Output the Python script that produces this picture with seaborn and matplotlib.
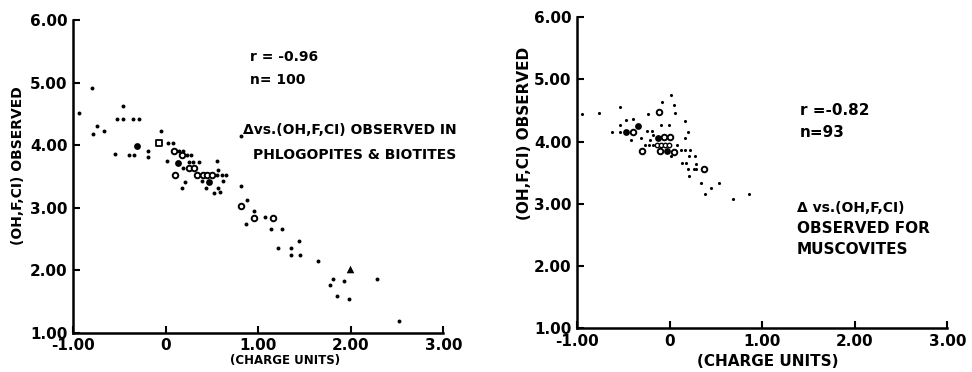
import numpy as np
import pandas as pd
import matplotlib
matplotlib.use('Agg')
import matplotlib.pyplot as plt
import seaborn as sns

# Phlogopites & biotites (left panel)
phl_x = [-0.94, -0.79, -0.78, -0.74, -0.66, -0.55, -0.46, -0.53, -0.46, -0.35,
         -0.29, -0.39, -0.34, -0.19, -0.19, -0.05, 0.03, 0.08, 0.01, 0.15,
         0.19, 0.23, 0.27, 0.25, 0.30, 0.36, 0.19, 0.55, 0.55, 0.61,
         0.65, 0.57, 0.21, 0.39, 0.62, 0.18, 0.44, 0.57, 0.52, 0.59,
         0.81, 0.81, 0.88, 0.87, 0.96, 1.07, 1.14, 1.26, 1.21, 1.36,
         1.36, 1.45, 1.44, 1.65, 1.81, 1.78, 1.93, 1.85, 1.98, 2.28,
         2.52,
         0.09, 0.18, 0.25, 0.31, 0.10, 0.34, 0.40, 0.45, 0.50, 0.82,
         0.96, 1.16,
         -0.31, 0.13, 0.47,
         -0.07,
         1.99]
phl_y = [4.51, 4.91, 4.18, 4.31, 4.23, 3.86, 4.62, 4.42, 4.42, 4.42,
         4.42, 3.84, 3.84, 3.91, 3.81, 4.22, 4.03, 4.03, 3.74, 3.91,
         3.91, 3.84, 3.84, 3.73, 3.73, 3.73, 3.64, 3.74, 3.53, 3.53,
         3.53, 3.61, 3.42, 3.43, 3.43, 3.31, 3.31, 3.31, 3.23, 3.25,
         4.15, 3.35, 3.13, 2.74, 2.95, 2.86, 2.66, 2.66, 2.35, 2.35,
         2.25, 2.25, 2.47, 2.15, 1.86, 1.76, 1.83, 1.59, 1.55, 1.86,
         1.19,
         3.91, 3.84, 3.64, 3.64, 3.53, 3.53, 3.53, 3.53, 3.53, 3.03,
         2.84, 2.84,
         3.98, 3.72, 3.42,
         4.03,
         2.02]
phl_kind = (['dot'] * 61 + ['open'] * 12 + ['big'] * 3 + ['square'] + ['tri'])

# Muscovites (right panel)
mus_x = [-0.95, -0.76, -0.54, -0.23, -0.08, 0.02, 0.05, 0.06, -0.47, -0.40,
         -0.54, -0.09, -0.01, -0.62, -0.54, -0.42, -0.31, -0.24, -0.19, -0.18,
         -0.21, -0.26, -0.22, -0.18, 0.17, 0.20, 0.17, 0.08, 0.02, 0.12,
         0.17, 0.22, 0.21, 0.27, 0.13, 0.18, 0.29, 0.20, 0.26, 0.29,
         0.21, 0.34, 0.53, 0.45, 0.38, 0.68, 0.86,
         -0.14, -0.09, -0.05, -0.01,
         -0.11, -0.39, -0.06, 0.01, -0.30, -0.10, 0.05, 0.37,
         -0.34, -0.47, -0.13, -0.03]
mus_y = [4.44, 4.46, 4.56, 4.44, 4.64, 4.74, 4.59, 4.46, 4.34, 4.36,
         4.26, 4.26, 4.27, 4.15, 4.15, 4.03, 4.06, 4.17, 4.17, 4.10,
         4.03, 3.95, 3.95, 3.95, 4.33, 4.15, 4.05, 3.95, 3.76, 3.87,
         3.87, 3.87, 3.77, 3.77, 3.66, 3.66, 3.64, 3.55, 3.55, 3.55,
         3.45, 3.34, 3.34, 3.25, 3.16, 3.07, 3.15,
         3.95, 3.95, 3.95, 3.95,
         4.47, 4.15, 4.08, 4.08, 3.84, 3.84, 3.83, 3.55,
         4.25, 4.15, 4.06, 3.84]
mus_kind = (['dot'] * 47 + ['small_open'] * 4 + ['open'] * 8 + ['big'] * 4)

x_ticks = [-1, 0, 1, 2, 3]
x_ticklabels = ['-1.00', '0', '1.00', '2.00', '3.00']
y_ticks = [1, 2, 3, 4, 5, 6]
y_ticklabels = ['1.00', '2.00', '3.00', '4.00', '5.00', '6.00']

# marker look for each symbol kind
STYLES = {
    'dot':        dict(marker='o', s=7, color='black', linewidth=0),
    'small_open': dict(marker='o', s=10, facecolor='white', edgecolor='black', linewidth=1.0),
    'open':       dict(marker='o', s=16, facecolor='white', edgecolor='black', linewidth=1.4),
    'big':        dict(marker='o', s=24, color='black', linewidth=0),
    'square':     dict(marker='s', s=14, facecolor='white', edgecolor='black', linewidth=1.3),
    'tri':        dict(marker='^', s=30, color='black', linewidth=0),
}

sns.set_style('ticks')
plt.rcParams['font.family'] = ['DejaVu Sans']
plt.rcParams['font.weight'] = 'bold'
plt.rcParams['text.color'] = 'black'

fig = plt.figure(figsize=(9.72, 3.72), dpi=100)
ax1 = fig.add_axes([0.0751, 0.105, 0.381, 0.841])
ax2 = fig.add_axes([0.5936, 0.118, 0.381, 0.836])


def draw_panel(ax, xs, ys, kinds, dot_size):
    df = pd.DataFrame({'x': xs, 'y': ys, 'kind': kinds})
    for kind, sub in df.groupby('kind'):
        st = dict(STYLES[kind])
        if kind == 'dot':
            st['s'] = dot_size
        sns.scatterplot(data=sub, x='x', y='y', ax=ax, legend=False, zorder=3, **st)
    ax.set_xlim(-1, 3)
    ax.set_ylim(1, 6)
    ax.set_xticks(x_ticks)
    ax.set_xticklabels(x_ticklabels)
    ax.set_yticks(y_ticks)
    ax.set_yticklabels(y_ticklabels)
    ax.set_xlabel('')
    ax.set_ylabel('')
    sns.despine(ax=ax)
    for sp in ['left', 'bottom']:
        ax.spines[sp].set_linewidth(1.8)
        ax.spines[sp].set_color('black')
    ax.tick_params(direction='in', length=5, width=1.5, labelsize=11, pad=4, colors='black')


draw_panel(ax1, phl_x, phl_y, phl_kind, 8)
draw_panel(ax2, mus_x, mus_y, mus_kind, 5)

# axis titles
fig.text(0.0185, 0.556, '(OH,F,CI) OBSERVED', rotation=90, ha='center', va='center', fontsize=10)
fig.text(0.293, 0.03, '(CHARGE UNITS)', ha='center', va='center', fontsize=8.5)
fig.text(0.54, 0.642, '(OH,F,CI) OBSERVED', rotation=90, ha='center', va='center', fontsize=11)
fig.text(0.790, 0.027, '(CHARGE UNITS)', ha='center', va='center', fontsize=11)

# left annotations
fig.text(0.257, 0.847, 'r = -0.96', ha='left', va='center', fontsize=10)
fig.text(0.257, 0.785, 'n= 100', ha='left', va='center', fontsize=10)
fig.text(0.250, 0.651, '\u0394vs.(OH,F,CI) OBSERVED IN', ha='left', va='center', fontsize=10)
fig.text(0.260, 0.583, 'PHLOGOPITES & BIOTITES', ha='left', va='center', fontsize=10)

# right annotations
fig.text(0.823, 0.704, 'r =-0.82', ha='left', va='center', fontsize=11)
fig.text(0.823, 0.645, 'n=93', ha='left', va='center', fontsize=11)
fig.text(0.820, 0.441, '\u0394 vs.(OH,F,CI)', ha='left', va='center', fontsize=10)
fig.text(0.820, 0.387, 'OBSERVED FOR', ha='left', va='center', fontsize=11)
fig.text(0.820, 0.328, 'MUSCOVITES', ha='left', va='center', fontsize=11)

fig.savefig('out.png', dpi=100)
